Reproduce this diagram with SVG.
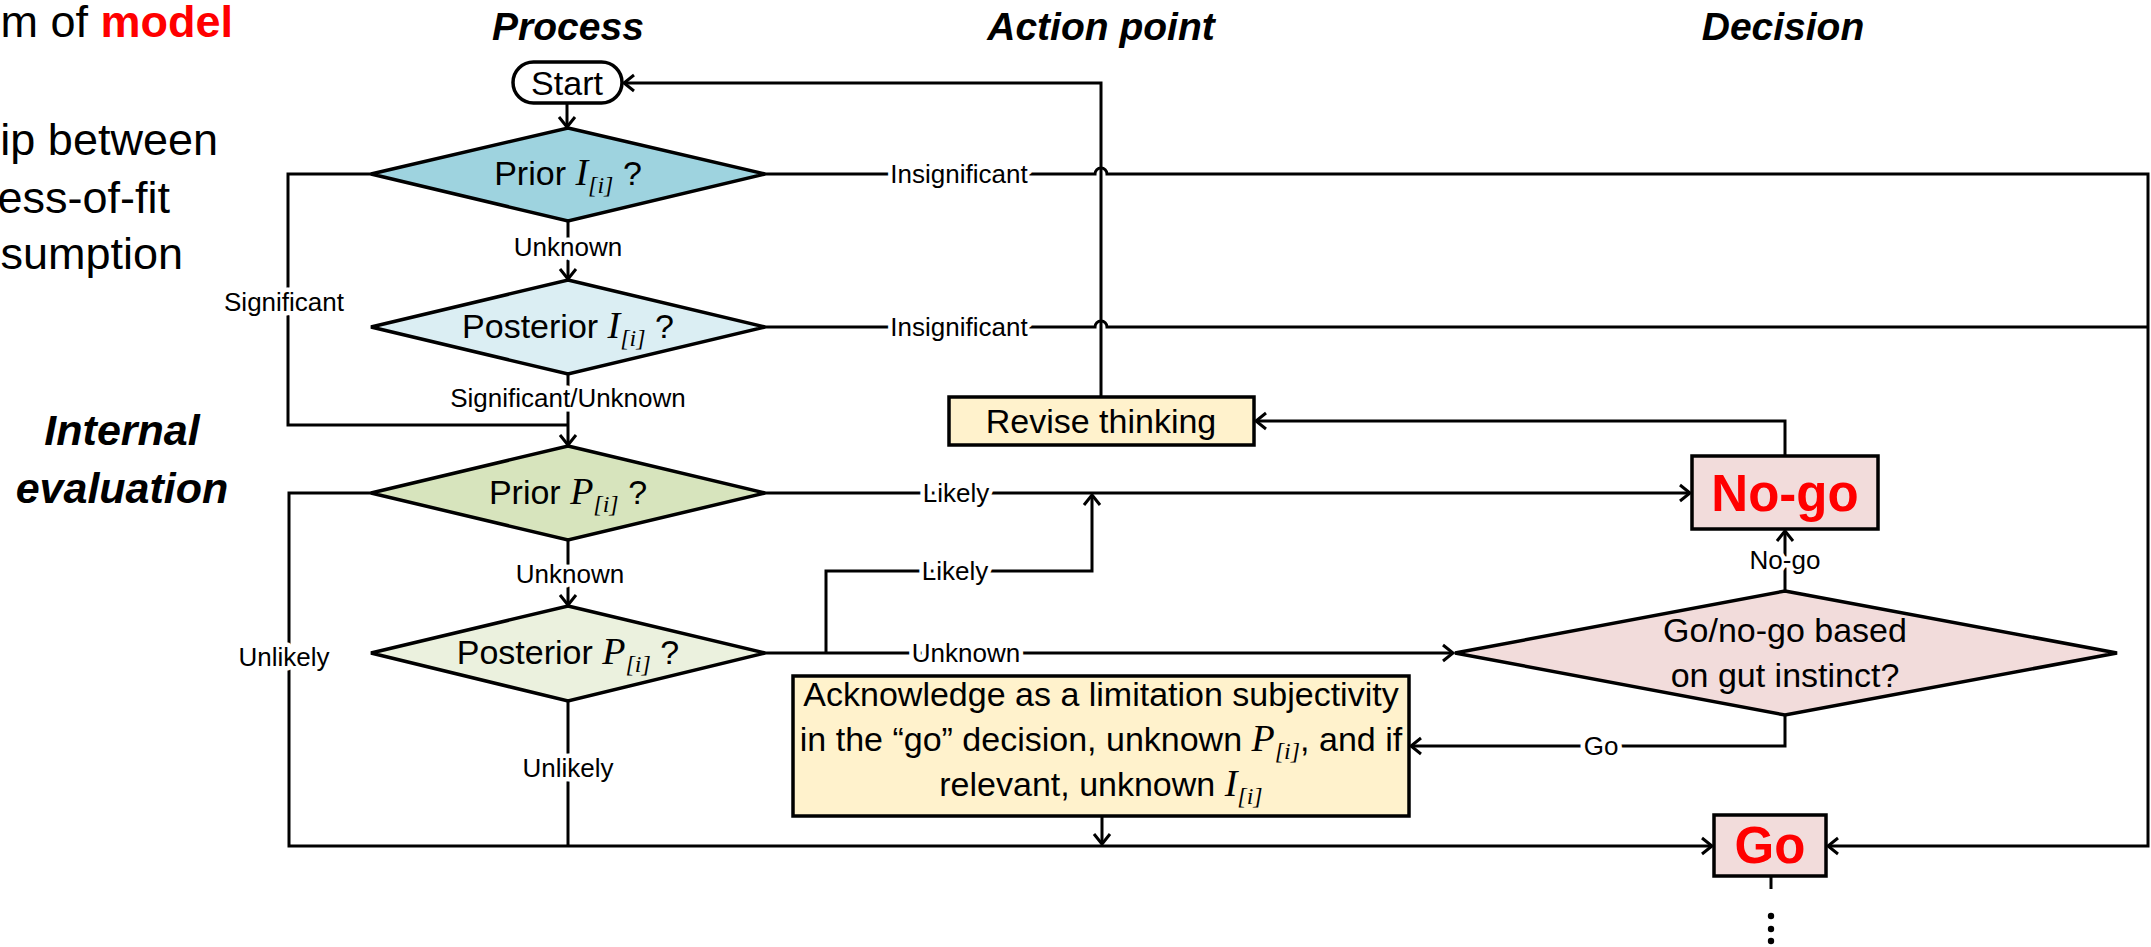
<svg xmlns="http://www.w3.org/2000/svg" width="2151" height="947" viewBox="0 0 2151 947">
  <style>
    text { font-family: "Liberation Sans", Arial, sans-serif; fill: #000; }
    .hdr { font-size: 39px; font-weight: bold; font-style: italic; text-anchor: middle; }
    .side { font-size: 43px; font-weight: bold; font-style: italic; text-anchor: middle; }
    .slide { font-size: 45px; text-anchor: end; }
    .t { font-size: 34px; text-anchor: middle; }
    .big { font-size: 51px; font-weight: bold; fill: #ff0000; text-anchor: middle; }
    .m { font-family: "Liberation Serif", "Times New Roman", serif; font-style: italic; }
    .lbl { font-size: 26px; text-anchor: middle; paint-order: stroke; stroke: #fff; stroke-width: 9px; stroke-linejoin: round; }
    .wire { fill: none; stroke: #000; stroke-width: 3; }
    .shape { stroke: #000; stroke-width: 3.5; }
    .arr { marker-end: url(#open); }
  </style>
  <defs>
    <marker id="open" markerUnits="userSpaceOnUse" markerWidth="14" markerHeight="20" refX="11" refY="10" orient="auto">
      <path d="M1,2 L11,10 L1,18" fill="none" stroke="#000" stroke-width="3"/>
    </marker>
  </defs>

  <rect width="2151" height="947" fill="#fff"/>

  <!-- slide text on the left -->
  <g id="slide-text">
    <text class="slide" x="233" y="37" font-size="44">m of <tspan font-weight="bold" fill="#ff0000">model</tspan></text>
    <text class="slide" x="218" y="155">ip between</text>
    <text class="slide" x="170" y="213">ess-of-fit</text>
    <text class="slide" x="183" y="269">sumption</text>
  </g>

  <!-- column and row headings -->
  <g id="headings">
    <text class="hdr" x="568" y="40">Process</text>
    <text class="hdr" x="1101" y="40">Action point</text>
    <text class="hdr" x="1783" y="40">Decision</text>
    <text class="side" x="122" y="445">Internal</text>
    <text class="side" x="122" y="503">evaluation</text>
  </g>

  <!-- connectors -->
  <g id="connectors">
    <path class="wire arr" d="M567,103 V127"/>
    <path class="wire arr" d="M568,221 V279"/>
    <path class="wire" d="M371,174 H288 V425 H568"/>
    <path class="wire arr" d="M568,374 V445"/>
    <path class="wire arr" d="M765,174 H1095 a6,6 0 0 1 12,0 H2148 V846 H1828"/>
    <path class="wire" d="M765,327 H1095 a6,6 0 0 1 12,0 H2148"/>
    <path class="wire arr" d="M1101,397 V83 H624"/>
    <path class="wire arr" d="M765,493 H1690"/>
    <path class="wire arr" d="M568,540 V605"/>
    <path class="wire arr" d="M371,493 H289 V846 H1712"/>
    <path class="wire" d="M568,701 V846"/>
    <path class="wire arr" d="M765,653 H1453"/>
    <path class="wire arr" d="M826,653 V571 H1092 V495"/>
    <path class="wire arr" d="M1785,591 V531"/>
    <path class="wire arr" d="M1785,456 V421 H1256"/>
    <path class="wire arr" d="M1785,715 V746 H1411"/>
    <path class="wire arr" d="M1102,816 V844"/>
    <path class="wire" d="M1771,876 V889"/>
    <circle cx="1771" cy="916" r="3.2"/>
    <circle cx="1771" cy="929" r="3.2"/>
    <circle cx="1771" cy="941" r="3.2"/>

    <text class="lbl" x="568" y="256">Unknown</text>
    <text class="lbl" x="959" y="183">Insignificant</text>
    <text class="lbl" x="959" y="336">Insignificant</text>
    <text class="lbl" x="284" y="311">Significant</text>
    <text class="lbl" x="568" y="407">Significant/Unknown</text>
    <text class="lbl" x="956" y="502">Likely</text>
    <text class="lbl" x="955" y="580">Likely</text>
    <text class="lbl" x="966" y="662">Unknown</text>
    <text class="lbl" x="570" y="583">Unknown</text>
    <text class="lbl" x="284" y="666">Unlikely</text>
    <text class="lbl" x="568" y="777">Unlikely</text>
    <text class="lbl" x="1785" y="569">No-go</text>
    <text class="lbl" x="1601" y="755">Go</text>
  </g>

  <!-- nodes -->
  <g id="start">
    <rect class="shape" x="513" y="62" width="109" height="41" rx="20.5" fill="#fff"/>
    <text class="t" x="567" y="95">Start</text>
  </g>

  <g id="prior-i">
    <polygon class="shape" points="568,128 765,174 568,221 371,174" fill="#9ed3df"/>
    <text class="t" x="568" y="185">Prior <tspan class="m" font-size="38">I</tspan><tspan class="m" font-size="24" dy="8">[i]</tspan><tspan dy="-8"> ?</tspan></text>
  </g>

  <g id="posterior-i">
    <polygon class="shape" points="568,280 765,327 568,374 371,327" fill="#dbeef3"/>
    <text class="t" x="568" y="338">Posterior <tspan class="m" font-size="38">I</tspan><tspan class="m" font-size="24" dy="8">[i]</tspan><tspan dy="-8"> ?</tspan></text>
  </g>

  <g id="prior-p">
    <polygon class="shape" points="568,446 765,493 568,540 371,493" fill="#d7e4bd"/>
    <text class="t" x="568" y="504">Prior <tspan class="m" font-size="38">P</tspan><tspan class="m" font-size="24" dy="8">[i]</tspan><tspan dy="-8"> ?</tspan></text>
  </g>

  <g id="posterior-p">
    <polygon class="shape" points="568,606 765,653 568,701 371,653" fill="#ebf1de"/>
    <text class="t" x="568" y="664">Posterior <tspan class="m" font-size="38">P</tspan><tspan class="m" font-size="24" dy="8">[i]</tspan><tspan dy="-8"> ?</tspan></text>
  </g>

  <g id="revise-thinking">
    <rect class="shape" x="949" y="397" width="305" height="48" fill="#fff2cc"/>
    <text class="t" x="1101" y="433">Revise thinking</text>
  </g>

  <g id="acknowledge">
    <rect class="shape" x="793" y="676" width="616" height="140" fill="#fff2cc"/>
    <text class="t" x="1101" y="706">Acknowledge as a limitation subjectivity</text>
    <text class="t" x="1101" y="751">in the “go” decision, unknown <tspan class="m" font-size="38">P</tspan><tspan class="m" font-size="24" dy="8">[i]</tspan><tspan dy="-8">, and if</tspan></text>
    <text class="t" x="1101" y="796">relevant, unknown <tspan class="m" font-size="38">I</tspan><tspan class="m" font-size="24" dy="8">[i]</tspan></text>
  </g>

  <g id="no-go">
    <rect class="shape" x="1692" y="456" width="186" height="73" fill="#f2dcdb"/>
    <text class="big" x="1785" y="511">No-go</text>
  </g>

  <g id="gut-decision">
    <polygon class="shape" points="1785,591 2117,653 1785,715 1455,653" fill="#f2dcdb"/>
    <text class="t" x="1785" y="642">Go/no-go based</text>
    <text class="t" x="1785" y="687">on gut instinct?</text>
  </g>

  <g id="go">
    <rect class="shape" x="1714" y="815" width="112" height="61" fill="#f2dcdb"/>
    <text class="big" x="1770" y="863">Go</text>
  </g>
</svg>
